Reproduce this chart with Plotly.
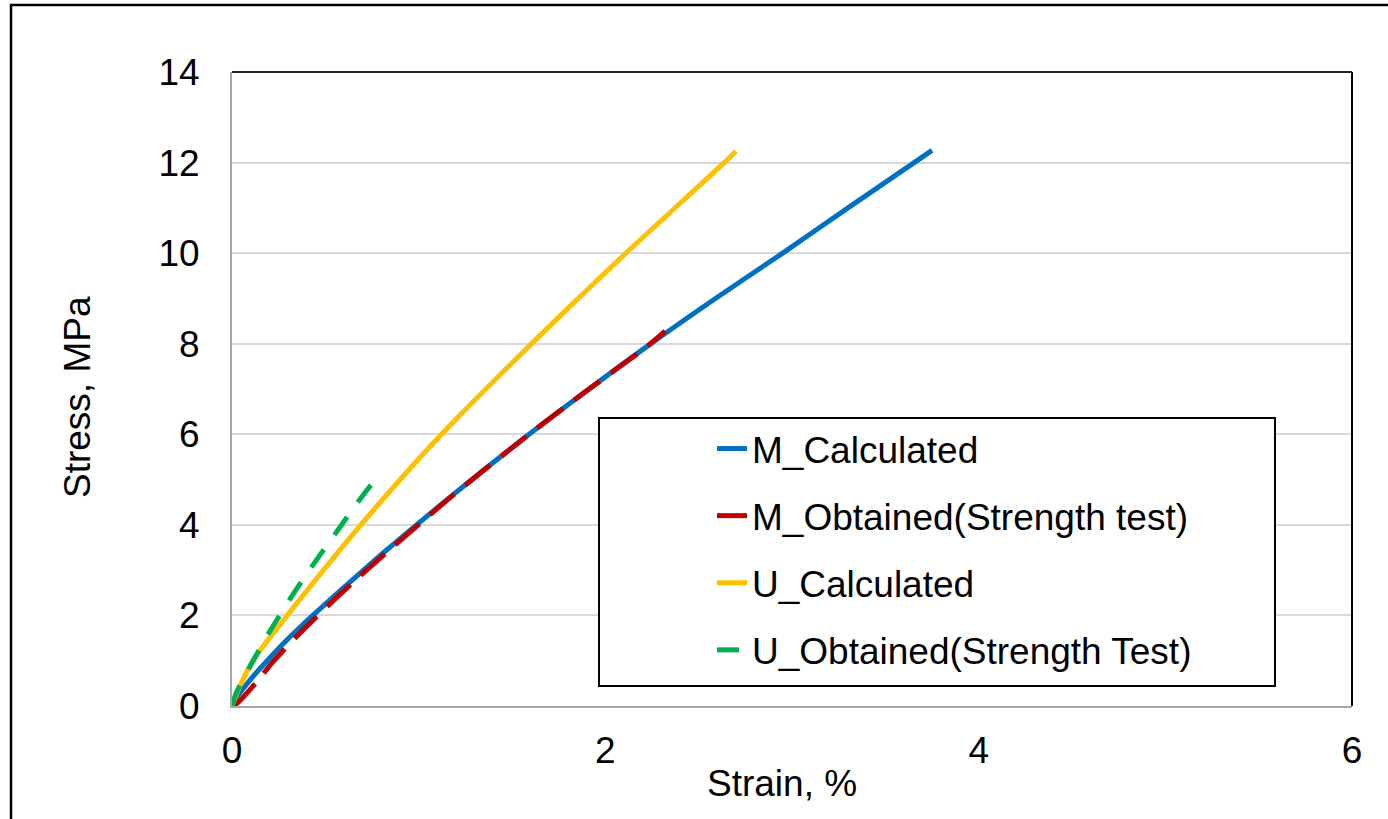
import plotly.graph_objects as go

# ---- data ----
m_calc_strain = [0, 0.02, 0.05, 0.11, 0.20, 0.29, 0.38, 0.47, 0.65, 0.83, 1.00, 1.18, 1.57, 1.90, 2.22, 2.58, 2.95, 3.30, 3.75]
m_calc_stress = [0, 0.15, 0.33, 0.64, 1.05, 1.44, 1.80, 2.14, 2.80, 3.45, 4.04, 4.65, 5.93, 6.96, 7.93, 8.97, 10.0, 11.0, 12.27]

m_obt_strain = [0, 0.03, 0.14, 0.21, 0.35, 0.43, 0.58, 0.83, 1.18, 1.57, 1.90, 2.22, 2.32]
m_obt_stress = [0, 0.07, 0.57, 0.93, 1.55, 1.88, 2.47, 3.40, 4.64, 5.93, 6.96, 7.93, 8.28]

u_calc_strain = [0, 0.04, 0.12, 0.29, 0.48, 0.69, 1.10, 1.60, 2.10, 2.63, 2.70]
u_calc_stress = [0, 0.42, 1.05, 1.97, 2.95, 4.00, 5.90, 7.98, 9.96, 11.97, 12.25]

u_obt_strain = [0, 0.02, 0.10, 0.20, 0.32, 0.45, 0.58, 0.71, 0.78]
u_obt_stress = [0, 0.26, 0.90, 1.63, 2.42, 3.21, 3.96, 4.70, 5.05]

x_ticks = [0, 2, 4, 6]
y_ticks = [0, 2, 4, 6, 8, 10, 12, 14]

FONT = "Arial, 'Liberation Sans', sans-serif"
FS = 37

fig = go.Figure()
series = [
    ("M_Calculated", m_calc_strain, m_calc_stress, "#0070C0", "solid"),
    ("M_Obtained(Strength test)", m_obt_strain, m_obt_stress, "#C00000", "32px,14px"),
    ("U_Calculated", u_calc_strain, u_calc_stress, "#FFC000", "solid"),
    ("U_Obtained(Strength Test)", u_obt_strain, u_obt_stress, "#00B050", "22px,18px"),
]
for i, (name, xs, ys, col, dash) in enumerate(series):
    fig.add_trace(go.Scatter(
        x=xs, y=ys, mode="lines", name=name, legendgroup=f"g{i}",
        line=dict(color=col, width=5, dash=dash, shape="spline", smoothing=0.8),
    ))

# plot-area frame: top and right dark lines
fig.add_shape(type="line", xref="paper", yref="paper", x0=0, x1=1, y0=1, y1=1,
              line=dict(color="#262626", width=2), layer="above")
fig.add_shape(type="line", xref="paper", yref="paper", x0=1, x1=1, y0=0, y1=1,
              line=dict(color="#000000", width=2), layer="above")
# outer chart border (partly outside the view)
fig.add_shape(type="rect", xref="paper", yref="paper",
              x0=(11 - 232) / 1120, x1=2.0, y0=-1.0, y1=(706 - 5) / 634,
              line=dict(color="#000000", width=2.5), layer="above")
# legend box
fig.add_shape(type="rect", xref="paper", yref="paper",
              x0=(599 - 232) / 1120, x1=(1275 - 232) / 1120,
              y0=(706 - 686) / 634, y1=(706 - 418) / 634,
              line=dict(color="#000000", width=2), fillcolor="white", layer="above")

fig.add_annotation(text="Strain, %", xref="paper", yref="paper",
                   x=(782 - 232) / 1120, y=(706 - 783) / 634,
                   xanchor="center", yanchor="middle", showarrow=False,
                   font=dict(family=FONT, size=FS, color="#000000"))
fig.add_annotation(text="Stress, MPa", xref="paper", yref="paper",
                   x=(78 - 232) / 1120, y=(706 - 397) / 634, textangle=-90,
                   xanchor="center", yanchor="middle", showarrow=False,
                   font=dict(family=FONT, size=FS, color="#000000"))

fig.update_layout(
    width=1388, height=819,
    margin=dict(l=232, r=36, t=72, b=113),
    paper_bgcolor="white", plot_bgcolor="white",
    font=dict(family=FONT, size=FS, color="#000000"),
    showlegend=True,
    legend=dict(
        x=(712 - 232) / 1120, y=(706 - 418) / 634, xanchor="left", yanchor="top",
        bgcolor="rgba(0,0,0,0)", borderwidth=0,
        font=dict(family=FONT, size=FS, color="#000000"),
        traceorder="grouped", tracegroupgap=16, itemwidth=30,
    ),
    xaxis=dict(
        range=[0, 6], tickvals=x_ticks, ticktext=[str(v) for v in x_ticks],
        showgrid=False, zeroline=False, showline=True, linecolor="#A6A6A6", linewidth=2,
        ticks="", ticklabelstandoff=11,
        tickfont=dict(family=FONT, size=FS, color="#000000"),
    ),
    yaxis=dict(
        range=[0, 14], tickvals=y_ticks, ticktext=[str(v) for v in y_ticks],
        showgrid=True, gridcolor="#D9D9D9", gridwidth=2,
        zeroline=False, showline=True, linecolor="#A6A6A6", linewidth=2,
        ticks="", ticklabelstandoff=23,
        tickfont=dict(family=FONT, size=FS, color="#000000"),
    ),
)

fig.write_html(
    "out.html",
    config={"displayModeBar": False},
    post_script="document.body.style.margin='0';document.body.style.overflow='hidden';",
)
